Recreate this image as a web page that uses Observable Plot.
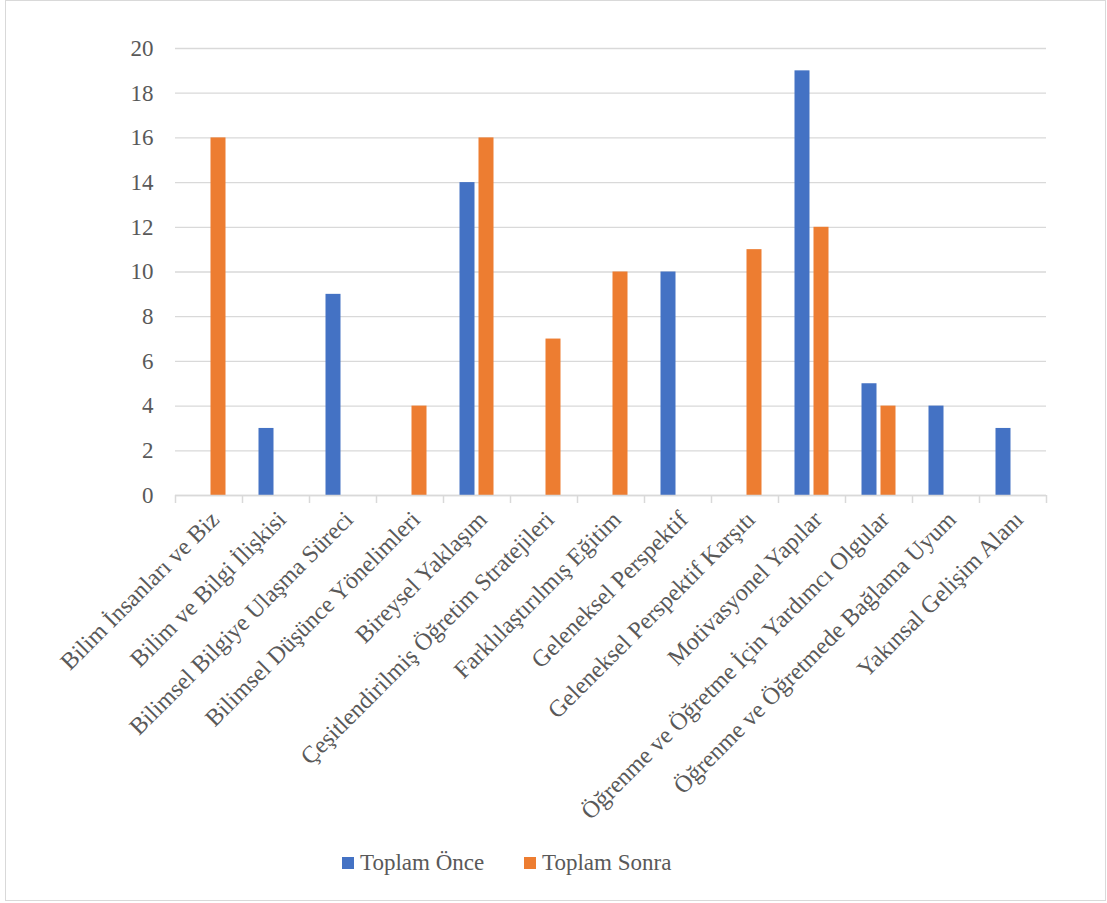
<!DOCTYPE html>
<html>
<head>
<meta charset="utf-8">
<script src="https://cdn.jsdelivr.net/npm/d3@7"></script>
<script src="https://cdn.jsdelivr.net/npm/@observablehq/plot@0.6"></script>
<style>
  html, body { margin: 0; padding: 0; background: #fff; }
  body { width: 1107px; height: 903px; position: relative; overflow: hidden; font-family: "Liberation Serif", "Times New Roman", serif; }
  #frame { position: absolute; left: 5px; top: 0px; width: 1101px; height: 901px; box-sizing: border-box; border: 1.5px solid #d9d9d9; }
  #chart { position: absolute; left: 0; top: 0; }
  #chart svg, #chart svg text { font-family: "Liberation Serif", "Times New Roman", serif !important; }
  #legend { position: absolute; top: 850px; left: 0; width: 1107px; height: 26px; font-size: 23px; color: #595959; }
  .li { position: absolute; top: 0; display: flex; align-items: center; height: 26px; white-space: nowrap; }
  .sw { width: 12px; height: 12px; margin-right: 6px; display: inline-block; }
</style>
</head>
<body>
<div id="frame"></div>
<div id="chart"></div>
<div id="legend"></div>
<script>
const categories = [
  "Bilim İnsanları ve Biz",
  "Bilim ve Bilgi İlişkisi",
  "Bilimsel Bilgiye Ulaşma Süreci",
  "Bilimsel Düşünce Yönelimleri",
  "Bireysel Yaklaşım",
  "Çeşitlendirilmiş Öğretim Stratejileri",
  "Farklılaştırılmış Eğitim",
  "Geleneksel Perspektif",
  "Geleneksel Perspektif Karşıtı",
  "Motivasyonel Yapılar",
  "Öğrenme ve Öğretme İçin Yardımcı Olgular",
  "Öğrenme ve Öğretmede Bağlama Uyum",
  "Yakınsal Gelişim Alanı"
];
const toplamOnce  = [0, 3, 9, 0, 14, 0, 0, 10, 0, 19, 5, 4, 3];
const toplamSonra = [16, 0, 0, 4, 16, 7, 10, 0, 11, 12, 4, 0, 0];
const seriesNames = ["Toplam Önce", "Toplam Sonra"];
const seriesColors = ["#4472C4", "#ED7D31"];
const yTicks = [0, 2, 4, 6, 8, 10, 12, 14, 16, 18, 20];

const onceData = categories.map((c, i) => ({cat: c, value: toplamOnce[i]})).filter(d => d.value > 0);
const sonraData = categories.map((c, i) => ({cat: c, value: toplamSonra[i]})).filter(d => d.value > 0);

const W = 1107, H = 840;
const mL = 175, mR = 61, mT = 48, mB = H - 495;
const band = (W - mL - mR) / categories.length;
const barW = 15, off = 9.5;
const inset = (band - barW) / 2;
const grey = "#d9d9d9", txt = "#595959";
const serif = '"Liberation Serif", "Times New Roman", serif';

const chart = Plot.plot({
  width: W, height: H,
  marginLeft: mL, marginRight: mR, marginTop: mT, marginBottom: mB,
  style: {fontFamily: serif, background: "transparent"},
  x: {domain: categories, padding: 0},
  y: {domain: [0, 20]},
  marks: [
    Plot.gridY(yTicks, {stroke: grey, strokeOpacity: 1, strokeWidth: 1.3}),
    Plot.barY(onceData, {x: "cat", y: "value", fill: seriesColors[0], insetLeft: inset, insetRight: inset, dx: -off}),
    Plot.barY(sonraData, {x: "cat", y: "value", fill: seriesColors[1], insetLeft: inset, insetRight: inset, dx: off}),
    Plot.ruleY([0], {stroke: grey, strokeWidth: 1.5}),
    Plot.ruleX(categories, {x: d => d, y1: 0, y2: 0, insetBottom: -8, dx: -band / 2, stroke: grey, strokeWidth: 1.5}),
    Plot.ruleX(categories.slice(-1), {x: d => d, y1: 0, y2: 0, insetBottom: -8, dx: band / 2, stroke: grey, strokeWidth: 1.5}),
    Plot.axisY(yTicks, {tickSize: 0, tickPadding: 22, fontSize: 23, fontFamily: serif, fill: txt, label: null}),
    Plot.axisX({tickRotate: -45, tickSize: 0, tickPadding: 20, dx: 6, fontSize: 24, fontFamily: serif, fill: txt, label: null})
  ]
});
document.getElementById("chart").appendChild(chart);

const legend = document.getElementById("legend");
const legendX = [342, 524];
seriesNames.forEach((name, i) => {
  const item = document.createElement("div");
  item.className = "li";
  item.style.left = legendX[i] + "px";
  const sw = document.createElement("span");
  sw.className = "sw";
  sw.style.background = seriesColors[i];
  item.appendChild(sw);
  item.appendChild(document.createTextNode(name));
  legend.appendChild(item);
});
</script>
</body>
</html>
